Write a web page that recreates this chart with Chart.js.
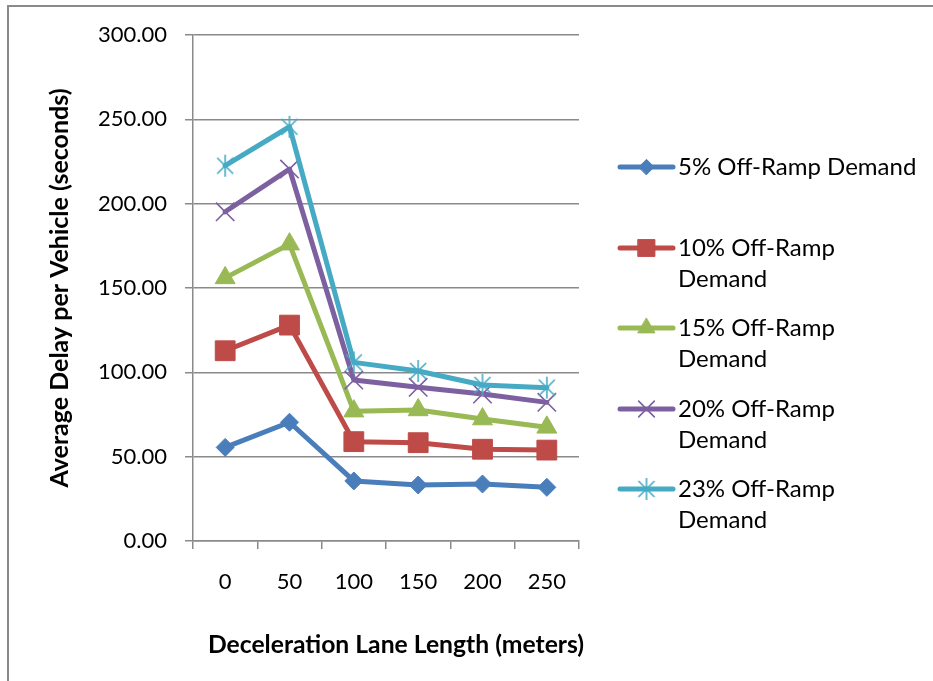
<!DOCTYPE html>
<html>
<head>
<meta charset="utf-8">
<script src="https://cdn.jsdelivr.net/npm/chart.js@4.4.1/dist/chart.umd.min.js"></script>
<style>
  body { margin: 0; background: #fff; }
  #wrap { position: relative; width: 933px; height: 681px; overflow: hidden; }
  #frame { position: absolute; left: 7px; top: 5px; width: 1000px; height: 800px;
           border-left: 2px solid #8a8a8a; border-top: 2px solid #8a8a8a; }
  canvas { position: absolute; left: 0; top: 0; }
</style>
</head>
<body>
<div id="wrap">
  <div id="frame"></div>
  <canvas id="myChart" width="933" height="681"></canvas>
</div>
<script>
var xValues = ['0', '50', '100', '150', '200', '250'];
var seriesNames = ['5% Off-Ramp Demand', '10% Off-Ramp Demand', '15% Off-Ramp Demand',
                   '20% Off-Ramp Demand', '23% Off-Ramp Demand'];
var demand5 = [55.5, 70.4, 35.6, 33.2, 33.8, 31.8];
var demand10 = [112.8, 128.0, 58.9, 58.3, 54.4, 53.9];
var demand15 = [156.0, 176.0, 77.0, 77.7, 72.3, 67.4];
var demand20 = [195.2, 220.5, 95.4, 91.1, 87.1, 82.2];
var demand23 = [222.5, 245.6, 105.9, 100.8, 92.5, 90.9];
var yTicks = [0, 50, 100, 150, 200, 250, 300];

var colors = ['#4a7ebb', '#be4b48', '#98b954', '#7d60a0', '#46aac5'];
var font = 'Lato, "DejaVu Sans", sans-serif';

// asterisk marker like Excel's (X plus a vertical bar)
function starMarker(color) {
    var c = document.createElement('canvas');
    c.width = 24; c.height = 24;
    var g = c.getContext('2d');
    g.strokeStyle = color;
    g.lineWidth = 1.6;
    g.beginPath();
    g.moveTo(4, 4); g.lineTo(20, 20);
    g.moveTo(20, 4); g.lineTo(4, 20);
    g.moveTo(12, 1); g.lineTo(12, 23);
    g.stroke();
    return c;
}

function makeSet(i, data, style, radius, pbw) {
    return {
        label: seriesNames[i],
        data: data,
        borderColor: colors[i],
        backgroundColor: colors[i],
        borderWidth: 5,
        borderJoinStyle: 'round',
        borderCapStyle: 'round',
        pointStyle: style,
        pointRadius: radius,
        pointHoverRadius: radius,
        pointBorderWidth: pbw,
        pointBorderColor: colors[i],
        pointBackgroundColor: colors[i],
        fill: false,
        tension: 0,
        order: 4 - i
    };
}

var datasets = [
    makeSet(0, demand5, 'rectRot', 9, 1),
    makeSet(1, demand10, 'rect', 14, 1),
    makeSet(2, demand15, 'triangle', 11.5, 1),
    makeSet(3, demand20, 'crossRot', 13, 1.6),
    makeSet(4, demand23, starMarker(colors[4]), 12, 1)
];

// draw text in bold so that it spans the given width
function fitText(ctx, text, width, x, y) {
    ctx.font = 'bold 20px ' + font;
    var size = 20 * width / ctx.measureText(text).width;
    ctx.font = 'bold ' + size.toFixed(1) + 'px ' + font;
    ctx.fillText(text, x, y);
}

// axis titles and the wrapped legend, drawn by hand
var extras = {
    id: 'extras',
    afterDraw: function (chart) {
        var ctx = chart.ctx;
        ctx.save();
        ctx.fillStyle = '#000';
        ctx.textAlign = 'center';
        ctx.textBaseline = 'middle';
        fitText(ctx, 'Deceleration Lane Length (meters)', 376, 396, 645);
        ctx.save();
        ctx.translate(60, 288);
        ctx.rotate(-Math.PI / 2);
        fitText(ctx, 'Average Delay per Vehicle (seconds)', 399, 0, 0);
        ctx.restore();

        var rows = [167, 248, 328, 409, 489];
        ctx.font = '24px ' + font;
        ctx.textAlign = 'left';
        chart.data.datasets.forEach(function (ds, i) {
            var y = rows[i];
            ctx.strokeStyle = ds.borderColor;
            ctx.lineWidth = 5;
            ctx.lineCap = 'round';
            ctx.beginPath();
            ctx.moveTo(620, y);
            ctx.lineTo(673, y);
            ctx.stroke();
            ctx.fillStyle = ds.backgroundColor;
            ctx.strokeStyle = ds.borderColor;
            ctx.lineWidth = ds.pointBorderWidth;
            Chart.helpers.drawPoint(ctx, { pointStyle: ds.pointStyle, radius: ds.pointRadius * 0.85, rotation: 0, borderWidth: ds.pointBorderWidth }, 646.5, y);
            ctx.fillStyle = '#000';
            var words = ds.label;
            if (i === 0) {
                ctx.fillText(words, 678, y);
            } else {
                var cut = words.lastIndexOf(' ');
                ctx.fillText(words.slice(0, cut), 678, y);
                ctx.fillText(words.slice(cut + 1), 678, y + 31);
            }
        });
        ctx.restore();
    }
};

new Chart("myChart", {
    type: "line",
    data: {
        labels: xValues,
        datasets: datasets
    },
    options: {
        responsive: false,
        animation: false,
        layout: { padding: { left: 0, top: 35, right: 354, bottom: 0 } },
        plugins: {
            legend: { display: false },
            tooltip: { enabled: false }
        },
        scales: {
            x: {
                offset: true,
                afterFit: function (s) { s.height = 140; },
                grid: { offset: true, drawOnChartArea: false, drawTicks: true, tickLength: 8, color: '#8a8a8a', lineWidth: 1.5 },
                border: { color: '#8a8a8a', width: 1.5 },
                ticks: { color: '#000', font: { family: font, size: 22 }, padding: 20, maxRotation: 0 }
            },
            y: {
                min: 0,
                max: 300,
                afterFit: function (s) { s.width = 193; },
                afterBuildTicks: function (s) { s.ticks = yTicks.map(function (v) { return { value: v }; }); },
                grid: { drawTicks: true, tickLength: 8, color: '#8a8a8a', lineWidth: 1.5 },
                border: { color: '#8a8a8a', width: 1.5 },
                ticks: {
                    color: '#000',
                    font: { family: font, size: 22 },
                    padding: 18,
                    callback: function (v) { return Number(v).toFixed(2); }
                }
            }
        }
    },
    plugins: [extras]
});
</script>
</body>
</html>
